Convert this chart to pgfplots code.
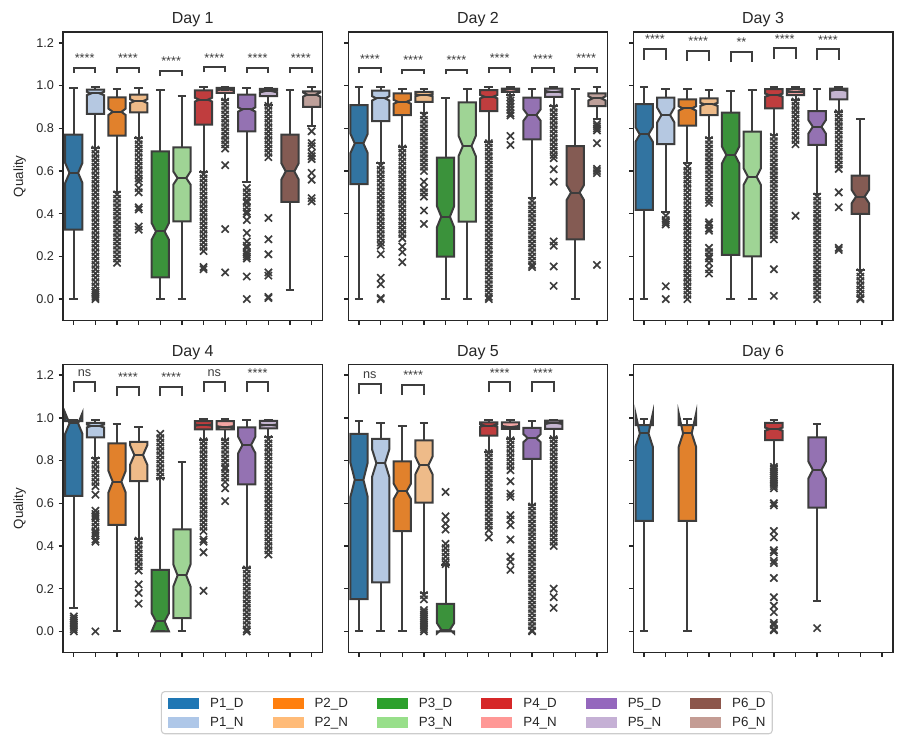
\documentclass[border=0pt]{standalone}
\usepackage{pgfplots}
\pgfplotsset{compat=1.18}
\usepackage{fontspec}
\setmainfont{Liberation Sans}
\definecolor{c1}{RGB}{50,116,161}
\definecolor{c2}{RGB}{181,200,225}
\definecolor{c3}{RGB}{225,129,44}
\definecolor{c4}{RGB}{238,187,137}
\definecolor{c5}{RGB}{59,146,59}
\definecolor{c6}{RGB}{159,212,149}
\definecolor{c7}{RGB}{192,61,62}
\definecolor{c8}{RGB}{242,165,163}
\definecolor{c9}{RGB}{148,114,178}
\definecolor{c10}{RGB}{196,181,208}
\definecolor{c11}{RGB}{132,91,83}
\definecolor{c12}{RGB}{190,160,154}
\definecolor{t1}{HTML}{1F77B4}
\definecolor{t2}{HTML}{AEC7E8}
\definecolor{t3}{HTML}{FF7F0E}
\definecolor{t4}{HTML}{FFBB78}
\definecolor{t5}{HTML}{2CA02C}
\definecolor{t6}{HTML}{98DF8A}
\definecolor{t7}{HTML}{D62728}
\definecolor{t8}{HTML}{FF9896}
\definecolor{t9}{HTML}{9467BD}
\definecolor{t10}{HTML}{C5B0D5}
\definecolor{t11}{HTML}{8C564B}
\definecolor{t12}{HTML}{C49C94}
\definecolor{lc}{RGB}{61,61,61}
\definecolor{sp}{RGB}{38,38,38}
\definecolor{tc}{RGB}{38,38,38}
\definecolor{lgray}{RGB}{204,204,204}
\newcommand{\sigfont}{\fontsize{9.5}{11}\selectfont}
% pos, color, lo, q1, cilo, med, cihi, q3, hi
\newcommand{\nbox}[9]{%
 \pgfmathsetmacro\bxl{#1-0.4}%
 \pgfmathsetmacro\bxr{#1+0.4}%
 \pgfmathsetmacro\bnl{#1-0.2}%
 \pgfmathsetmacro\bnr{#1+0.2}%
 \edef\tmp{%
  \noexpand\addplot[forget plot,fill=#2,draw=lc,line width=1.5pt,line join=miter] coordinates {(\bxl,#4)(\bxr,#4)(\bxr,#5)(\bnr,#6)(\bxr,#7)(\bxr,#8)(\bxl,#8)(\bxl,#7)(\bnl,#6)(\bxl,#5)} --cycle;%
  \noexpand\addplot[forget plot,draw=lc,line width=1.5pt] coordinates {(#1,#4)(#1,#3)};%
  \noexpand\addplot[forget plot,draw=lc,line width=1.5pt] coordinates {(#1,#8)(#1,#9)};%
  \noexpand\addplot[forget plot,draw=lc,line width=1.5pt] coordinates {(\bnl,#3)(\bnr,#3)};%
  \noexpand\addplot[forget plot,draw=lc,line width=1.5pt] coordinates {(\bnl,#9)(\bnr,#9)};%
  \noexpand\addplot[forget plot,draw=lc,line width=1.5pt] coordinates {(\bnl,#6)(\bnr,#6)};%
 }\tmp}
\newcommand{\fl}[2]{\addplot[forget plot,only marks,mark=x,mark size=3.8pt,mark options={draw=lc,line width=1.25pt}] table[header=false,x expr=#1,y index=0,row sep=\\]{#2\\};}
% left x, top, leg bottom, text
\newcommand{\sig}[4]{%
 \pgfmathsetmacro\sxb{#1+1}%
 \pgfmathsetmacro\smid{#1+0.5}%
 \edef\tmp{%
  \noexpand\addplot[forget plot,draw=lc,line width=1.5pt] coordinates {(#1,#3)(#1,#2)(\sxb,#2)(\sxb,#3)};%
  \noexpand\node[anchor=base,yshift=4pt,inner sep=0pt,font=\noexpand\sigfont,text=lc] at (axis cs:\smid,#2) {#4};%
 }\tmp}
\pgfplotsset{
 dstyle/.style={
  scale only axis, width=194.6pt, height=216.2pt, anchor=south west,
  xmin=-0.5, xmax=11.5, ymin=-0.1, ymax=1.25,
  xtick={0,1,...,11}, xticklabels={},
  ytick={0,0.2,0.4,0.6,0.8,1.0,1.2},
  tick pos=left, tick align=outside, major tick length=3.2pt,
  axis line style={draw=sp, line width=1.1pt},
  every tick/.style={draw=sp, line width=1pt},
  /pgf/number format/assume math mode=true,
  yticklabel style={/pgf/number format/fixed,/pgf/number format/fixed zerofill,/pgf/number format/precision=1, font=\fontsize{9.5}{11}\selectfont, text=tc},
  every axis title/.style={at={(0.5,1)}, anchor=base, yshift=6.2pt, font=\fontsize{12}{14}\selectfont, text=tc},
  every axis y label/.style={at={(axis description cs:-0.1669,0.5)}, rotate=90, anchor=center, font=\fontsize{10}{12}\selectfont, text=tc},
 },
 nolab/.style={yticklabels={}},
}
\begin{document}
\begin{tikzpicture}
\useasboundingbox (0pt,0pt) rectangle (680.25pt,558.75pt);
% ---------------- Day 1
\begin{axis}[dstyle, at={(47.25pt,318.4pt)}, title={Day 1}, ylabel={Quality}]
\nbox{0}{c1}{0.0}{0.325}{0.544}{0.591}{0.638}{0.770}{0.990}
\nbox{1}{c2}{0.708}{0.867}{0.955}{0.963}{0.971}{0.981}{0.994}
\fl{1}{0.70\\0.68\\0.66\\0.64\\0.62\\0.60\\0.58\\0.56\\0.54\\0.52\\0.50\\0.48\\0.46\\0.44\\0.42\\0.40\\0.38\\0.36\\0.34\\0.32\\0.30\\0.28\\0.26\\0.24\\0.22\\0.20\\0.18\\0.16\\0.14\\0.12\\0.10\\0.08\\0.06\\0.04\\0.03\\0.02\\0.01\\0.00}
\nbox{2}{c3}{0.50}{0.766}{0.862}{0.877}{0.892}{0.945}{0.984}
\fl{2}{0.49\\0.47\\0.45\\0.43\\0.41\\0.39\\0.37\\0.35\\0.33\\0.31\\0.29\\0.27\\0.25\\0.23\\0.21\\0.19\\0.17}
\nbox{3}{c4}{0.755}{0.875}{0.918}{0.927}{0.936}{0.958}{0.989}
\fl{3}{0.745\\0.725\\0.705\\0.685\\0.665\\0.645\\0.625\\0.605\\0.585\\0.565\\0.55\\0.52\\0.50\\0.43\\0.42\\0.34\\0.325}
\nbox{4}{c5}{0}{0.102}{0.278}{0.317}{0.356}{0.692}{0.981}
\nbox{5}{c6}{0}{0.364}{0.536}{0.567}{0.598}{0.711}{0.95}
\nbox{6}{c7}{0.594}{0.817}{0.925}{0.934}{0.943}{0.978}{0.994}
\fl{6}{0.585\\0.565\\0.545\\0.525\\0.505\\0.485\\0.465\\0.445\\0.425\\0.405\\0.385\\0.365\\0.345\\0.325\\0.305\\0.285\\0.265\\0.245\\0.225\\0.15\\0.14}
\nbox{7}{c8}{0.934}{0.966}{0.978}{0.981}{0.984}{0.989}{0.994}
\fl{7}{0.925\\0.905\\0.885\\0.865\\0.845\\0.825\\0.805\\0.785\\0.765\\0.745\\0.725\\0.705\\0.627\\0.328\\0.125}
\nbox{8}{c9}{0.547}{0.786}{0.878}{0.888}{0.898}{0.958}{0.989}
\fl{8}{0.52\\0.50\\0.48\\0.46\\0.45\\0.43\\0.41\\0.40\\0.37\\0.31\\0.27\\0.25\\0.24\\0.22\\0.21\\0.20\\0.19\\0.106\\0.0}
\nbox{9}{c10}{0.911}{0.95}{0.968}{0.973}{0.978}{0.984}{0.989}
\fl{9}{0.905\\0.885\\0.865\\0.845\\0.825\\0.805\\0.785\\0.765\\0.745\\0.725\\0.705\\0.685\\0.665\\0.38\\0.28\\0.21\\0.125\\0.11\\0.01\\0.005}
\nbox{10}{c11}{0.041}{0.455}{0.56}{0.598}{0.636}{0.770}{0.981}
\nbox{11}{c12}{0.809}{0.90}{0.948}{0.958}{0.968}{0.973}{0.994}
\fl{11}{0.786\\0.731\\0.716\\0.684\\0.669\\0.656\\0.591\\0.559\\0.473\\0.458}
\sig{0}{1.083}{1.060}{****}
\sig{2}{1.083}{1.060}{****}
\sig{4}{1.067}{1.044}{****}
\sig{6}{1.085}{1.062}{****}
\sig{8}{1.083}{1.060}{****}
\sig{10}{1.083}{1.060}{****}
\end{axis}
% ---------------- Day 2
\begin{axis}[dstyle, nolab, at={(261.2pt,318.4pt)}, title={Day 2}]
\nbox{0}{c1}{0}{0.538}{0.684}{0.729}{0.774}{0.909}{0.991}
\nbox{1}{c2}{0.636}{0.834}{0.93}{0.94}{0.95}{0.976}{0.994}
\fl{1}{0.625\\0.605\\0.585\\0.565\\0.545\\0.525\\0.505\\0.485\\0.465\\0.445\\0.425\\0.405\\0.385\\0.365\\0.345\\0.325\\0.305\\0.285\\0.265\\0.25\\0.21\\0.10\\0.07\\0.005\\0.0}
\nbox{2}{c3}{0.714}{0.862}{0.915}{0.924}{0.933}{0.963}{0.986}
\fl{2}{0.705\\0.685\\0.665\\0.645\\0.625\\0.605\\0.585\\0.565\\0.545\\0.525\\0.505\\0.485\\0.465\\0.445\\0.425\\0.405\\0.385\\0.365\\0.345\\0.325\\0.305\\0.285\\0.246\\0.22\\0.173}
\nbox{3}{c4}{0.87}{0.924}{0.950}{0.955}{0.960}{0.971}{0.986}
\fl{3}{0.86\\0.84\\0.82\\0.80\\0.78\\0.76\\0.74\\0.72\\0.70\\0.68\\0.66\\0.64\\0.62\\0.60\\0.55\\0.52\\0.50\\0.48\\0.415\\0.352}
\nbox{4}{c5}{0}{0.199}{0.336}{0.386}{0.436}{0.662}{0.944}
\nbox{5}{c6}{0}{0.363}{0.669}{0.717}{0.765}{0.921}{0.986}
\nbox{6}{c7}{0.737}{0.88}{0.940}{0.948}{0.956}{0.979}{0.991}
\fl{6}{0.73\\0.71\\0.69\\0.67\\0.65\\0.63\\0.61\\0.59\\0.57\\0.55\\0.53\\0.51\\0.49\\0.47\\0.45\\0.43\\0.41\\0.39\\0.37\\0.35\\0.33\\0.31\\0.29\\0.27\\0.25\\0.23\\0.21\\0.19\\0.17\\0.15\\0.13\\0.11\\0.09\\0.07\\0.05\\0.03\\0.01\\0.0}
\nbox{7}{c8}{0.955}{0.971}{0.979}{0.982}{0.985}{0.986}{0.991}
\fl{7}{0.945\\0.93\\0.915\\0.90\\0.885\\0.87\\0.86\\0.764\\0.722}
\nbox{8}{c9}{0.475}{0.748}{0.835}{0.862}{0.889}{0.943}{0.986}
\fl{8}{0.46\\0.44\\0.42\\0.40\\0.38\\0.36\\0.34\\0.32\\0.30\\0.28\\0.26\\0.24\\0.22\\0.20\\0.18\\0.16\\0.15}
\nbox{9}{c10}{0.904}{0.947}{0.967}{0.971}{0.975}{0.986}{0.991}
\fl{9}{0.895\\0.875\\0.855\\0.835\\0.815\\0.795\\0.775\\0.755\\0.735\\0.715\\0.695\\0.675\\0.66\\0.608\\0.55\\0.27\\0.25\\0.153\\0.062}
\nbox{10}{c11}{0}{0.28}{0.464}{0.499}{0.534}{0.717}{0.982}
\nbox{11}{c12}{0.842}{0.904}{0.93}{0.94}{0.95}{0.963}{0.991}
\fl{11}{0.82\\0.81\\0.80\\0.79\\0.73\\0.61\\0.60\\0.59\\0.16}
\sig{0}{1.080}{1.057}{****}
\sig{2}{1.075}{1.052}{****}
\sig{4}{1.075}{1.052}{****}
\sig{6}{1.083}{1.060}{****}
\sig{8}{1.080}{1.057}{****}
\sig{10}{1.083}{1.060}{****}
\end{axis}
% ---------------- Day 3
\begin{axis}[dstyle, nolab, at={(475pt,318.4pt)}, title={Day 3}]
\nbox{0}{c1}{0}{0.418}{0.737}{0.771}{0.805}{0.913}{0.991}
\nbox{1}{c2}{0.407}{0.726}{0.827}{0.862}{0.897}{0.943}{0.986}
\fl{1}{0.39\\0.37\\0.36\\0.35\\0.06\\0.0}
\nbox{2}{c3}{0.636}{0.812}{0.883}{0.893}{0.903}{0.935}{0.982}
\fl{2}{0.62\\0.60\\0.58\\0.56\\0.54\\0.52\\0.50\\0.48\\0.46\\0.44\\0.42\\0.40\\0.38\\0.36\\0.34\\0.32\\0.30\\0.28\\0.26\\0.24\\0.22\\0.20\\0.18\\0.16\\0.14\\0.12\\0.10\\0.08\\0.06\\0.04\\0.02\\0.00}
\nbox{3}{c4}{0.753}{0.862}{0.905}{0.912}{0.919}{0.940}{0.979}
\fl{3}{0.745\\0.725\\0.705\\0.685\\0.665\\0.645\\0.625\\0.605\\0.585\\0.565\\0.545\\0.525\\0.505\\0.485\\0.465\\0.45\\0.36\\0.35\\0.33\\0.32\\0.24\\0.22\\0.20\\0.19\\0.17\\0.14\\0.12}
\nbox{4}{c5}{0}{0.207}{0.636}{0.675}{0.714}{0.873}{0.976}
\nbox{5}{c6}{0}{0.2}{0.535}{0.573}{0.612}{0.784}{0.979}
\nbox{6}{c7}{0.768}{0.893}{0.948}{0.955}{0.962}{0.983}{0.994}
\fl{6}{0.76\\0.74\\0.72\\0.70\\0.68\\0.66\\0.64\\0.62\\0.60\\0.58\\0.56\\0.54\\0.52\\0.50\\0.48\\0.46\\0.44\\0.42\\0.40\\0.38\\0.36\\0.34\\0.32\\0.30\\0.28\\0.14\\0.015}
\nbox{7}{c8}{0.932}{0.955}{0.968}{0.971}{0.974}{0.983}{0.991}
\fl{7}{0.925\\0.905\\0.885\\0.865\\0.845\\0.825\\0.805\\0.785\\0.765\\0.745\\0.725\\0.39}
\nbox{8}{c9}{0.491}{0.722}{0.776}{0.807}{0.838}{0.880}{0.982}
\fl{8}{0.48\\0.46\\0.44\\0.42\\0.40\\0.38\\0.36\\0.34\\0.32\\0.30\\0.28\\0.26\\0.24\\0.22\\0.20\\0.18\\0.16\\0.14\\0.12\\0.10\\0.08\\0.06\\0.04\\0.02\\0.00}
\nbox{9}{c10}{0.877}{0.935}{0.975}{0.979}{0.983}{0.986}{0.991}
\fl{9}{0.87\\0.85\\0.83\\0.81\\0.79\\0.77\\0.75\\0.73\\0.71\\0.69\\0.67\\0.65\\0.63\\0.61\\0.50\\0.43\\0.24\\0.23}
\nbox{10}{c11}{0.134}{0.399}{0.449}{0.48}{0.511}{0.578}{0.843}
\fl{10}{0.125\\0.105\\0.085\\0.065\\0.045\\0.025\\0.005\\0.0}
\sig{0}{1.172}{1.122}{****}
\sig{2}{1.164}{1.114}{****}
\sig{4}{1.156}{1.109}{**}
\sig{6}{1.174}{1.125}{****}
\sig{8}{1.169}{1.119}{****}
\end{axis}
% ---------------- Day 4
\begin{axis}[dstyle, at={(47.25pt,69.2pt)}, title={Day 4}, ylabel={Quality}]
\nbox{0}{c1}{0.109}{0.634}{0.925}{0.974}{1.023}{0.985}{0.99}
\fl{0}{0.07\\0.06\\0.05\\0.04\\0.03\\0.02\\0.01\\0.0}
\nbox{1}{c2}{0.81}{0.909}{0.955}{0.962}{0.969}{0.977}{0.99}
\fl{1}{0.80\\0.78\\0.76\\0.74\\0.72\\0.70\\0.68\\0.64\\0.565\\0.55\\0.54\\0.53\\0.51\\0.49\\0.47\\0.46\\0.45\\0.43\\0.42\\0.0}
\nbox{2}{c3}{0}{0.499}{0.65}{0.701}{0.752}{0.88}{0.971}
\nbox{3}{c4}{0.432}{0.704}{0.78}{0.826}{0.872}{0.888}{0.955}
\fl{3}{0.425\\0.405\\0.385\\0.365\\0.345\\0.325\\0.305\\0.285\\0.22\\0.18\\0.13}
\nbox{4}{c5}{0}{0}{0}{0.047}{0.085}{0.288}{0.717}
\fl{4}{0.925\\0.905\\0.885\\0.865\\0.845\\0.825\\0.805\\0.785\\0.765\\0.745\\0.725}
\nbox{5}{c6}{0}{0.062}{0.21}{0.262}{0.314}{0.478}{0.792}
\nbox{6}{c7}{0.896}{0.946}{0.963}{0.966}{0.969}{0.985}{0.993}
\fl{6}{0.89\\0.87\\0.85\\0.83\\0.81\\0.79\\0.77\\0.75\\0.73\\0.71\\0.69\\0.67\\0.65\\0.63\\0.61\\0.59\\0.57\\0.55\\0.53\\0.51\\0.49\\0.47\\0.43\\0.42\\0.37\\0.19}
\nbox{7}{c8}{0.896}{0.946}{0.955}{0.958}{0.961}{0.985}{0.993}
\fl{7}{0.89\\0.87\\0.85\\0.83\\0.81\\0.79\\0.77\\0.76\\0.74\\0.72\\0.70\\0.67\\0.61}
\nbox{8}{c9}{0.296}{0.689}{0.834}{0.873}{0.912}{0.955}{0.99}
\fl{8}{0.29\\0.27\\0.25\\0.23\\0.21\\0.19\\0.17\\0.15\\0.13\\0.11\\0.09\\0.07\\0.05\\0.03\\0.01\\0.0}
\nbox{9}{c10}{0.909}{0.951}{0.963}{0.966}{0.969}{0.986}{0.99}
\fl{9}{0.90\\0.88\\0.86\\0.84\\0.82\\0.80\\0.78\\0.76\\0.74\\0.72\\0.70\\0.68\\0.66\\0.64\\0.62\\0.60\\0.58\\0.56\\0.54\\0.52\\0.50\\0.48\\0.46\\0.44\\0.42\\0.40\\0.38\\0.36}
\sig{0}{1.169}{1.122}{ns}
\sig{2}{1.145}{1.102}{****}
\sig{4}{1.145}{1.102}{****}
\sig{6}{1.169}{1.122}{ns}
\sig{8}{1.166}{1.120}{****}
\end{axis}
% ---------------- Day 5
\begin{axis}[dstyle, nolab, at={(261.2pt,69.2pt)}, title={Day 5},
  legend columns=6,
  legend style={at={(0.457,-0.133)}, anchor=north, draw=lgray, line width=0.8pt, rounded corners=2.5pt, fill=white,
    inner xsep=5pt, inner ysep=4.5pt, font=\fontsize{10}{12}\selectfont, text=tc,
    nodes={inner sep=0pt, text height=7.2pt, text depth=0pt}, cells={anchor=west}, row sep=6pt,
    /tikz/every odd column/.append style={column sep=8.25pt},
    /tikz/every even column/.append style={column sep=21.75pt}}]
\nbox{0}{c1}{0}{0.151}{0.63}{0.71}{0.79}{0.925}{0.984}
\nbox{1}{c2}{0}{0.229}{0.723}{0.788}{0.853}{0.902}{0.976}
\nbox{2}{c3}{0}{0.469}{0.62}{0.656}{0.692}{0.796}{0.964}
\nbox{3}{c4}{0.179}{0.603}{0.735}{0.777}{0.819}{0.894}{0.976}
\fl{3}{0.17\\0.15\\0.10\\0.09\\0.08\\0.07\\0.06\\0.05\\0.04\\0.03\\0.02\\0.01\\0.0}
\nbox{4}{c5}{0}{0}{-0.01}{0.008}{0.039}{0.129}{0.311}
\fl{4}{0.653\\0.539\\0.505\\0.477\\0.41\\0.39\\0.37\\0.35\\0.33\\0.315}
\nbox{6}{c7}{0.839}{0.917}{0.958}{0.964}{0.970}{0.979}{0.99}
\fl{6}{0.835\\0.815\\0.795\\0.775\\0.755\\0.735\\0.715\\0.695\\0.675\\0.655\\0.635\\0.615\\0.595\\0.575\\0.555\\0.535\\0.515\\0.495\\0.475\\0.44}
\nbox{7}{c8}{0.902}{0.948}{0.956}{0.959}{0.962}{0.979}{0.99}
\fl{7}{0.895\\0.875\\0.855\\0.835\\0.815\\0.795\\0.775\\0.755\\0.703\\0.645\\0.63\\0.544\\0.524\\0.497\\0.43\\0.35\\0.326\\0.288}
\nbox{8}{c9}{0.591}{0.808}{0.886}{0.905}{0.924}{0.953}{0.987}
\fl{8}{0.585\\0.565\\0.545\\0.525\\0.505\\0.485\\0.465\\0.445\\0.425\\0.405\\0.385\\0.365\\0.345\\0.325\\0.305\\0.285\\0.265\\0.245\\0.225\\0.205\\0.185\\0.165\\0.145\\0.125\\0.105\\0.085\\0.065\\0.045\\0.025\\0.005\\0.0}
\nbox{9}{c10}{0.906}{0.948}{0.971}{0.975}{0.979}{0.987}{0.99}
\fl{9}{0.90\\0.88\\0.86\\0.84\\0.82\\0.80\\0.78\\0.76\\0.74\\0.72\\0.70\\0.68\\0.66\\0.64\\0.62\\0.60\\0.58\\0.56\\0.54\\0.52\\0.50\\0.48\\0.46\\0.44\\0.42\\0.40\\0.20\\0.16\\0.11}
\sig{0}{1.158}{1.111}{ns}
\sig{2}{1.153}{1.107}{****}
\sig{6}{1.166}{1.119}{****}
\sig{8}{1.166}{1.119}{****}
\addlegendimage{legend image code/.code={\fill[t1,sharp corners] (0pt,-3.75pt) rectangle (22.5pt,3.75pt);}}
\addlegendentry{P1\_D}
\addlegendimage{legend image code/.code={\fill[t3,sharp corners] (0pt,-3.75pt) rectangle (22.5pt,3.75pt);}}
\addlegendentry{P2\_D}
\addlegendimage{legend image code/.code={\fill[t5,sharp corners] (0pt,-3.75pt) rectangle (22.5pt,3.75pt);}}
\addlegendentry{P3\_D}
\addlegendimage{legend image code/.code={\fill[t7,sharp corners] (0pt,-3.75pt) rectangle (22.5pt,3.75pt);}}
\addlegendentry{P4\_D}
\addlegendimage{legend image code/.code={\fill[t9,sharp corners] (0pt,-3.75pt) rectangle (22.5pt,3.75pt);}}
\addlegendentry{P5\_D}
\addlegendimage{legend image code/.code={\fill[t11,sharp corners] (0pt,-3.75pt) rectangle (22.5pt,3.75pt);}}
\addlegendentry{P6\_D}
\addlegendimage{legend image code/.code={\fill[t2,sharp corners] (0pt,-3.75pt) rectangle (22.5pt,3.75pt);}}
\addlegendentry{P1\_N}
\addlegendimage{legend image code/.code={\fill[t4,sharp corners] (0pt,-3.75pt) rectangle (22.5pt,3.75pt);}}
\addlegendentry{P2\_N}
\addlegendimage{legend image code/.code={\fill[t6,sharp corners] (0pt,-3.75pt) rectangle (22.5pt,3.75pt);}}
\addlegendentry{P3\_N}
\addlegendimage{legend image code/.code={\fill[t8,sharp corners] (0pt,-3.75pt) rectangle (22.5pt,3.75pt);}}
\addlegendentry{P4\_N}
\addlegendimage{legend image code/.code={\fill[t10,sharp corners] (0pt,-3.75pt) rectangle (22.5pt,3.75pt);}}
\addlegendentry{P5\_N}
\addlegendimage{legend image code/.code={\fill[t12,sharp corners] (0pt,-3.75pt) rectangle (22.5pt,3.75pt);}}
\addlegendentry{P6\_N}
\end{axis}
% ---------------- Day 6
\begin{axis}[dstyle, nolab, at={(475pt,69.2pt)}, title={Day 6}]
\nbox{0}{c1}{0}{0.517}{0.865}{0.927}{1.02}{0.966}{0.993}
\nbox{2}{c3}{0}{0.517}{0.865}{0.927}{1.02}{0.966}{0.993}
\nbox{6}{c7}{0.775}{0.896}{0.94}{0.947}{0.954}{0.977}{0.99}
\fl{6}{0.77\\0.76\\0.75\\0.74\\0.73\\0.72\\0.71\\0.70\\0.69\\0.68\\0.67\\0.60\\0.59\\0.47\\0.44\\0.38\\0.37\\0.33\\0.32\\0.25\\0.16\\0.12\\0.09\\0.04\\0.03\\0.01\\0.005}
\nbox{8}{c9}{0.14}{0.58}{0.717}{0.756}{0.795}{0.909}{0.971}
\fl{8}{0.015}
\end{axis}
\end{tikzpicture}
\end{document}
